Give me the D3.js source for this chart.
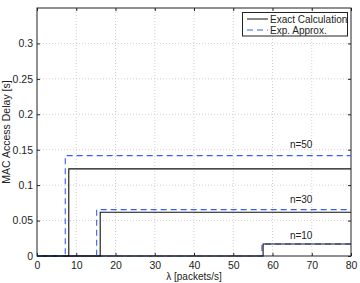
<!DOCTYPE html>
<html>
<head>
<meta charset="utf-8">
<script src="https://cdn.jsdelivr.net/npm/d3@7"></script>
<style>
  body { margin: 0; background: #fff; }
  text { font-family: "Liberation Sans", Arial, sans-serif; fill: #222; }
</style>
</head>
<body>
<svg id="chart" width="360" height="283"></svg>
<script>
// values
const nValues = [10, 30, 50];
const exactStep = [57.6, 16.1, 8.1];
const exactDelay = [0.0169, 0.0617, 0.123];
const approxStep = [57.3, 15.2, 7.2];
const approxDelay = [0.017, 0.0654, 0.1416];
const xTicks = [0, 10, 20, 30, 40, 50, 60, 70, 80];
const yTicks = [0, 0.05, 0.1, 0.15, 0.2, 0.25, 0.3];
const labelY = [0.024, 0.0745, 0.152];

let margin = {left: 37, right: 9, top: 8, bottom: 27};
let W = 360, H = 283;
let svg = d3.select('#chart');

let x = d3.scaleLinear().domain([0, 80]).range([margin.left, W - margin.right]);
let y = d3.scaleLinear().domain([0, 0.35]).range([H - margin.bottom, margin.top]);

// grid
svg.append('g').selectAll('line').data(xTicks.slice(1, -1)).enter().append('line')
  .attr('x1', d => x(d)).attr('x2', d => x(d))
  .attr('y1', y(0)).attr('y2', y(0.35))
  .attr('stroke', '#c4c4c4').attr('stroke-width', 0.8).attr('stroke-dasharray', '1,2');
svg.append('g').selectAll('line').data(yTicks.slice(1)).enter().append('line')
  .attr('y1', d => y(d)).attr('y2', d => y(d))
  .attr('x1', x(0)).attr('x2', x(80))
  .attr('stroke', '#c4c4c4').attr('stroke-width', 0.8).attr('stroke-dasharray', '1,2');

// axes (ticks inside, box on)
let xAxis = d3.axisBottom(x).tickValues(xTicks).tickSize(-3).tickPadding(6).tickFormat(d3.format('d'));
let yAxis = d3.axisLeft(y).tickValues(yTicks).tickSize(-3).tickPadding(4).tickFormat(d => d === 0 ? '0' : d3.format('')(d));
svg.append('g').attr('transform', `translate(0,${y(0)})`).call(xAxis);
svg.append('g').attr('transform', `translate(${x(0)},0)`).call(yAxis);
svg.append('g').attr('transform', `translate(0,${y(0.35)})`)
  .call(d3.axisTop(x).tickValues(xTicks).tickSize(-3).tickFormat(''));
svg.append('g').attr('transform', `translate(${x(80)},0)`)
  .call(d3.axisRight(y).tickValues(yTicks).tickSize(-3).tickFormat(''));
svg.selectAll('.domain').remove();
svg.selectAll('.tick line').attr('stroke', '#222');
svg.selectAll('.tick text').attr('font-size', 10.5).attr('fill', '#222')
  .attr('font-family', '"Liberation Sans", Arial, sans-serif');

svg.append('rect')
  .attr('x', x(0)).attr('y', y(0.35))
  .attr('width', x(80) - x(0)).attr('height', y(0) - y(0.35))
  .attr('fill', 'none').attr('stroke', '#222').attr('stroke-width', 1);

// step curves
let line = d3.line().x(d => x(d[0])).y(d => y(d[1])).curve(d3.curveStepAfter);

nValues.forEach(function(n, i) {
  let exact = [[0, 0], [exactStep[i], exactDelay[i]], [80, exactDelay[i]]];
  let approx = [[0, 0], [approxStep[i], approxDelay[i]], [80, approxDelay[i]]];
  svg.append('path').datum(approx).attr('d', line)
    .attr('fill', 'none').attr('stroke', '#3b5cf5').attr('stroke-width', 1.1)
    .attr('stroke-dasharray', '6,4');
  svg.append('path').datum(exact).attr('d', line)
    .attr('fill', 'none').attr('stroke', '#111').attr('stroke-width', 1.1);
  svg.append('text')
    .attr('x', x(67.3)).attr('y', y(labelY[i]))
    .attr('text-anchor', 'middle').attr('font-size', 10)
    .text('n=' + n);
});

// legend
let lg = svg.append('g');
lg.append('rect').attr('x', 242.5).attr('y', 12.5).attr('width', 105).attr('height', 23.5)
  .attr('fill', '#fff').attr('stroke', '#222').attr('stroke-width', 1);
let legend = [{name: 'Exact Calculation', color: '#111', dash: null},
              {name: 'Exp. Approx.', color: '#3b5cf5', dash: '6,4'}];
legend.forEach(function(d, i) {
  let ly = 19 + i * 11;
  lg.append('line').attr('x1', 247).attr('x2', 268).attr('y1', ly).attr('y2', ly)
    .attr('stroke', d.color).attr('stroke-width', 1)
    .attr('stroke-dasharray', d.dash);
  lg.append('text').attr('x', 270).attr('y', ly + 3.5).attr('font-size', 10).text(d.name);
});

// axis labels
svg.append('text').attr('x', x(40)).attr('y', 280)
  .attr('text-anchor', 'middle').attr('font-size', 10).text('λ [packets/s]');
svg.append('text').attr('transform', `translate(10,${y(0.175)}) rotate(-90)`)
  .attr('text-anchor', 'middle').attr('font-size', 10.5).text('MAC Access Delay [s]');
</script>
</body>
</html>
